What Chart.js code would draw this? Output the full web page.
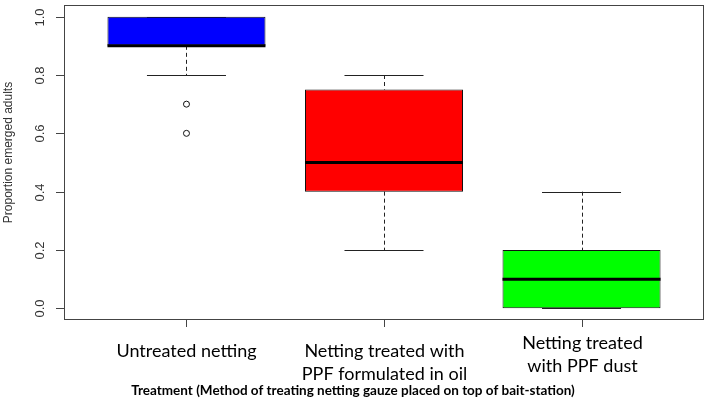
<!DOCTYPE html>
<html>
<head>
<meta charset="utf-8">
<script src="https://cdn.jsdelivr.net/npm/chart.js@4"></script>
<style>
  html, body { margin: 0; padding: 0; background: #fff; }
  canvas { display: block; }
</style>
</head>
<body>
<canvas id="box-chart" width="709" height="404"></canvas>
<script>
// --- data ---
const categories = ['Untreated netting', 'Netting treated with PPF formulated in oil', 'Netting treated with PPF dust'];
const categoryLines = [['Untreated netting'], ['Netting treated with', 'PPF formulated in oil'], ['Netting treated', 'with PPF dust']];
const lowerQuartile = [0.9, 0.4, 0.0];
const upperQuartile = [1.0, 0.75, 0.2];
const medians = [0.9, 0.5, 0.1];
const whiskerLow = [0.8, 0.2, 0.0];
const whiskerHigh = [1.0, 0.8, 0.4];
const outliers = [[0.7, 0.6], [], []];
const boxColors = ['#0000FF', '#FF0000', '#00FF00'];
const yTicks = [0, 0.2, 0.4, 0.6, 0.8, 1.0];
const yTickLabels = ['0.0', '0.2', '0.4', '0.6', '0.8', '1.0'];
const yTitle = 'Proportion emerged adults';
const xTitle = 'Treatment (Method of treating netting gauze placed on top of bait-station)';

const positions = categories.map((_, i) => i + 1);

// whiskers, medians, axes and frame drawn with the chart's scales
const boxExtras = {
    id: 'boxExtras',
    beforeDraw(chart) {
        const ctx = chart.ctx;
        ctx.save();
        ctx.fillStyle = '#fff';
        ctx.fillRect(0, 0, chart.width, chart.height);
        ctx.restore();
    },
    beforeDatasetsDraw(chart) {
        const { ctx, scales: { x, y } } = chart;
        ctx.save();
        ctx.strokeStyle = '#222';
        ctx.lineWidth = 1;
        positions.forEach((p, i) => {
            const cx = Math.round(x.getPixelForValue(p)) + 0.5;
            const capL = x.getPixelForValue(p - 0.2);
            const capR = x.getPixelForValue(p + 0.2);
            // dashed stems
            ctx.setLineDash([4, 3]);
            ctx.beginPath();
            ctx.moveTo(cx, y.getPixelForValue(whiskerHigh[i]));
            ctx.lineTo(cx, y.getPixelForValue(upperQuartile[i]));
            ctx.moveTo(cx, y.getPixelForValue(lowerQuartile[i]));
            ctx.lineTo(cx, y.getPixelForValue(whiskerLow[i]));
            ctx.stroke();
            // caps
            ctx.setLineDash([]);
            ctx.beginPath();
            [whiskerHigh[i], whiskerLow[i]].forEach(v => {
                const py = Math.round(y.getPixelForValue(v)) + 0.5;
                ctx.moveTo(capL, py);
                ctx.lineTo(capR, py);
            });
            ctx.stroke();
        });
        ctx.restore();
    },
    afterDatasetsDraw(chart) {
        const { ctx, scales: { x, y } } = chart;
        ctx.save();
        ctx.strokeStyle = '#000';
        ctx.lineWidth = 3;
        positions.forEach((p, i) => {
            const py = y.getPixelForValue(medians[i]);
            ctx.beginPath();
            ctx.moveTo(x.getPixelForValue(p - 0.4), py);
            ctx.lineTo(x.getPixelForValue(p + 0.4), py);
            ctx.stroke();
        });
        ctx.restore();
    },
    afterDraw(chart) {
        const { ctx, chartArea: a, scales: { x, y } } = chart;
        ctx.save();
        ctx.strokeStyle = '#444';
        ctx.lineWidth = 1;
        // frame
        ctx.strokeRect(Math.round(a.left) + 0.5, Math.round(a.top) + 0.5,
            Math.round(a.right - a.left) - 1, Math.round(a.bottom - a.top) - 1);

        // y ticks + rotated labels
        ctx.fillStyle = '#333';
        ctx.font = '13px "Liberation Sans", Arial, sans-serif';
        ctx.textAlign = 'center';
        ctx.textBaseline = 'middle';
        yTicks.forEach((v, i) => {
            const py = Math.round(y.getPixelForValue(v)) + 0.5;
            ctx.beginPath();
            ctx.moveTo(a.left - 8, py);
            ctx.lineTo(a.left, py);
            ctx.stroke();
            ctx.save();
            ctx.translate(a.left - 24, py);
            ctx.rotate(-Math.PI / 2);
            ctx.fillText(yTickLabels[i], 0, 0);
            ctx.restore();
        });
        ctx.font = '12px "Liberation Sans", Arial, sans-serif';
        ctx.save();
        ctx.translate(9, (a.top + a.bottom) / 2 - 10);
        ctx.rotate(-Math.PI / 2);
        ctx.fillText(yTitle, 0, 0);
        ctx.restore();

        // x ticks + category labels
        const lineOffsets = [[351], [351, 374], [343, 366]];
        ctx.fillStyle = '#000';
        ctx.font = '18px Lato, "Open Sans", sans-serif';
        positions.forEach((p, i) => {
            const px = Math.round(x.getPixelForValue(p)) + 0.5;
            ctx.beginPath();
            ctx.moveTo(px, a.bottom);
            ctx.lineTo(px, a.bottom + 7);
            ctx.stroke();
            categoryLines[i].forEach((line, j) => {
                ctx.fillText(line, px, lineOffsets[i][j]);
            });
        });
        ctx.font = 'bold 13.5px Lato, "Open Sans", sans-serif';
        ctx.fillText(xTitle, 353, 391);
        ctx.restore();
    }
};

new Chart(document.getElementById('box-chart'), {
    data: {
        datasets: [
            {
                type: 'bar',
                label: 'IQR',
                data: positions.map((p, i) => ({ x: p, y: [lowerQuartile[i], upperQuartile[i]] })),
                backgroundColor: boxColors,
                borderColor: '#111',
                borderWidth: 1,
                borderSkipped: false,
                barPercentage: 0.8,
                categoryPercentage: 1.0
            },
            {
                type: 'scatter',
                label: 'Outliers',
                data: outliers.flatMap((vals, i) => vals.map(v => ({ x: positions[i], y: v }))),
                pointRadius: 3,
                pointBackgroundColor: 'rgba(0,0,0,0)',
                pointBorderColor: '#111',
                pointBorderWidth: 1
            }
        ]
    },
    options: {
        responsive: false,
        devicePixelRatio: 1,
        animation: false,
        layout: { padding: { left: 64, right: 3, top: 2, bottom: 84 } },
        plugins: { legend: { display: false }, tooltip: { enabled: false } },
        scales: {
            x: {
                type: 'linear', min: 0.38, max: 3.62, offset: false, display: false,
                // one tick per group so the bar width follows the group spacing
                afterBuildTicks: scale => { scale.ticks = positions.map(v => ({ value: v })); }
            },
            y: { type: 'linear', min: -0.04, max: 1.04, display: false }
        }
    },
    plugins: [boxExtras]
});
</script>
</body>
</html>
